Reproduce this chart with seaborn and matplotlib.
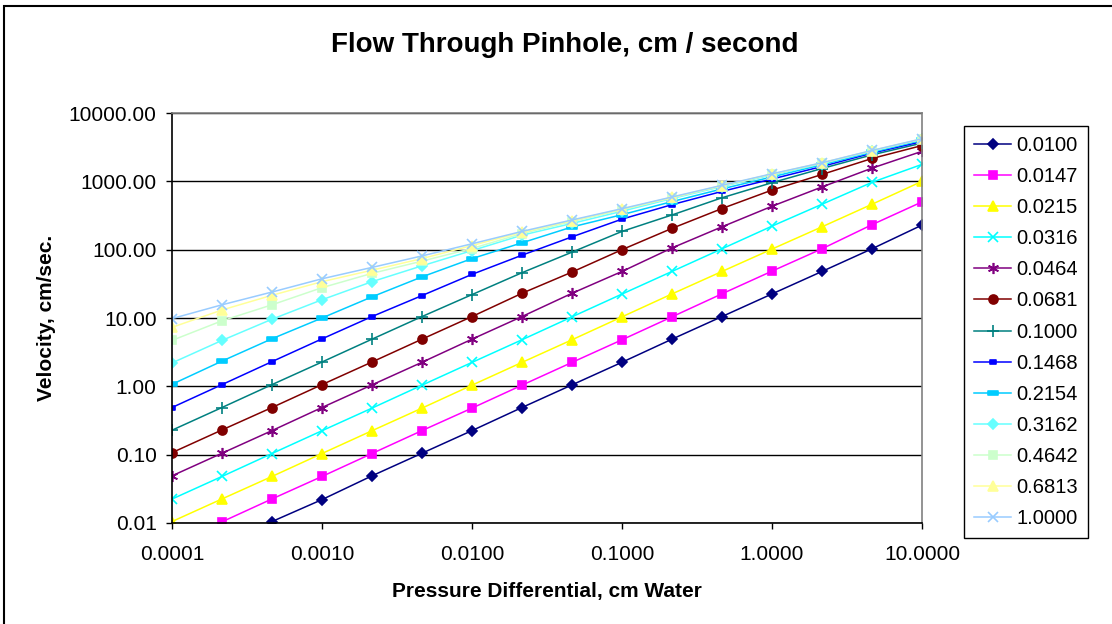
import numpy as np
import pandas as pd
import matplotlib
matplotlib.use("Agg")
import matplotlib.pyplot as plt
import seaborn as sns
from matplotlib.path import Path
from matplotlib.patches import Rectangle
from matplotlib.ticker import FixedLocator, FuncFormatter, NullLocator

# pressure differential, cm water (3 points per decade)
pressure = [0.0001, 0.0002154, 0.0004642, 0.001, 0.002154, 0.004642, 0.01, 0.02154,
            0.04642, 0.1, 0.2154, 0.4642, 1.0, 2.154, 4.642, 10.0]

# pinhole diameters (series names)
diameters = ["0.0100", "0.0147", "0.0215", "0.0316", "0.0464", "0.0681", "0.1000",
             "0.1468", "0.2154", "0.3162", "0.4642", "0.6813", "1.0000"]

# velocity, cm/sec
v_0100 = [0.0022, 0.0048, 0.0105, 0.022, 0.049, 0.105, 0.225, 0.49, 1.05, 2.25, 4.9, 10.5, 22.5, 48, 103, 229]
v_0147 = [0.0048, 0.0104, 0.0225, 0.048, 0.104, 0.225, 0.48, 1.04, 2.24, 4.8, 10.4, 22.6, 48.5, 103, 232, 500]
v_0215 = [0.0105, 0.0225, 0.048, 0.104, 0.224, 0.48, 1.04, 2.24, 4.8, 10.4, 22.5, 48, 102, 216, 462, 1000]
v_0316 = [0.0224, 0.048, 0.104, 0.224, 0.48, 1.04, 2.24, 4.8, 10.4, 22.4, 48, 103, 221, 462, 967, 1770]
v_0464 = [0.049, 0.105, 0.225, 0.49, 1.05, 2.25, 4.9, 10.5, 23, 48, 106, 216, 432, 827, 1560, 2750]
v_0681 = [0.107, 0.23, 0.49, 1.06, 2.27, 4.9, 10.5, 23, 47, 100, 205, 400, 745, 1260, 2160, 3340]
v_1000 = [0.228, 0.49, 1.06, 2.27, 4.9, 10.5, 22, 46, 92, 185, 322, 575, 955, 1540, 2440, 3630]
v_1468 = [0.49, 1.06, 2.3, 4.95, 10.5, 21.3, 43.5, 83, 154, 280, 456, 712, 1080, 1650, 2590, 3820]
v_2154 = [1.07, 2.34, 4.97, 10, 20.4, 40, 74, 126, 215, 325, 505, 775, 1160, 1750, 2670, 4000]
v_3162 = [2.2, 4.7, 9.6, 18.5, 34, 58, 97, 163, 242, 365, 560, 840, 1240, 1810, 2750, 4100]
v_4642 = [4.7, 9.1, 15.6, 27.8, 45, 68, 104, 172, 258, 385, 572, 858, 1270, 1850, 2800, 4150]
v_6813 = [7.3, 13.1, 21.5, 34, 50, 74, 115, 180, 266, 392, 582, 868, 1280, 1860, 2815, 4180]
v_10000 = [9.8, 15.6, 24, 37.5, 55, 81, 122, 185, 272, 398, 590, 875, 1290, 1870, 2830, 4200]

velocities = [v_0100, v_0147, v_0215, v_0316, v_0464, v_0681, v_1000,
              v_1468, v_2154, v_3162, v_4642, v_6813, v_10000]

colors = ["#000080", "#FF00FF", "#FFFF00", "#00FFFF", "#800080", "#800000", "#008080",
          "#0000FF", "#00CCFF", "#66FFFF", "#CCFFCC", "#FFFF99", "#99CCFF"]

def bar_marker(h):
    return Path([[-1, -h], [1, -h], [1, h], [-1, h], [-1, -h]],
                [Path.MOVETO, Path.LINETO, Path.LINETO, Path.LINETO, Path.CLOSEPOLY])

markers = ["D", "s", "^", "x", (6, 2, 0), "o", "+", bar_marker(0.5), bar_marker(0.35),
           "D", "s", "^", "x"]
msizes = [5, 6, 7, 7, 8, 6.5, 8, 5, 7, 5.5, 6, 7, 7]

rows = []
for d, vals in zip(diameters, velocities):
    for p, v in zip(pressure, vals):
        rows.append({"Pressure": p, "Velocity": v, "Diameter": d})
df = pd.DataFrame(rows)

plt.rcParams["font.family"] = ["Liberation Sans", "DejaVu Sans"]

fig = plt.figure(figsize=(11.12, 6.24), dpi=100)
ax = fig.add_axes([172 / 1112, 1 - 523 / 624, 750 / 1112, 410 / 624])

sns.lineplot(data=df, x="Pressure", y="Velocity", hue="Diameter",
             hue_order=diameters, palette=dict(zip(diameters, colors)),
             linewidth=1.1, legend=False, ax=ax)

# excel-style markers per series
handles = []
for line, col, mk, ms in zip(ax.lines, colors, markers, msizes):
    line.set_marker(mk)
    line.set_markeredgecolor(col)
    line.set_markerfacecolor(col)
    line.set_markersize(ms)
    line.set_markeredgewidth(1.2)
    handles.append(line)

ax.set_xscale("log")
ax.set_yscale("log")
ax.set_xlim(0.0001, 10)
ax.set_ylim(0.01, 10000)

ax.xaxis.set_major_locator(FixedLocator([0.0001, 0.001, 0.01, 0.1, 1, 10]))
ax.yaxis.set_major_locator(FixedLocator([0.01, 0.1, 1, 10, 100, 1000, 10000]))
ax.xaxis.set_minor_locator(NullLocator())
ax.yaxis.set_minor_locator(NullLocator())
ax.xaxis.set_major_formatter(FuncFormatter(lambda v, pos: f"{v:.4f}"))
ax.yaxis.set_major_formatter(FuncFormatter(lambda v, pos: f"{v:.2f}"))

ax.grid(False)
ax.yaxis.grid(True, color="black", linewidth=1)
ax.set_facecolor("white")
for side in ["left", "bottom"]:
    ax.spines[side].set_color("black")
    ax.spines[side].set_linewidth(1.2)
for side in ["top", "right"]:
    ax.spines[side].set_color("#808080")
    ax.spines[side].set_linewidth(1.2)

ax.tick_params(axis="both", direction="out", length=4, width=1, colors="black",
               labelsize=15, pad=7)
ax.tick_params(axis="x", pad=12)

ax.set_xlabel("Pressure Differential, cm Water", fontsize=15, fontweight="bold")
ax.set_ylabel("Velocity, cm/sec.", fontsize=15, fontweight="bold")
ax.xaxis.set_label_coords(0.5, -0.145)
ax.yaxis.set_label_coords(-0.155, 0.5)

fig.text(565 / 1112, 1 - 45 / 624, "Flow Through Pinhole, cm / second",
         fontsize=20, fontweight="bold", ha="center", va="center")

leg = fig.legend(handles, diameters, loc="upper right",
                 bbox_to_anchor=(1088 / 1112, 1 - 126 / 624), borderaxespad=0,
                 fontsize=14.5, frameon=True, fancybox=False, edgecolor="black",
                 framealpha=1, borderpad=0.5, labelspacing=0.6,
                 handlelength=1.85, handletextpad=0.25)
leg.get_frame().set_linewidth(1)

# chart-area frame: only left and top edges fall inside the picture
fig.patches.append(Rectangle((4 / 1112, -0.1), 1.2, 1.1 - 6 / 624,
                             transform=fig.transFigure, fill=False,
                             edgecolor="black", linewidth=1.5))

fig.savefig("out.png", dpi=100)
